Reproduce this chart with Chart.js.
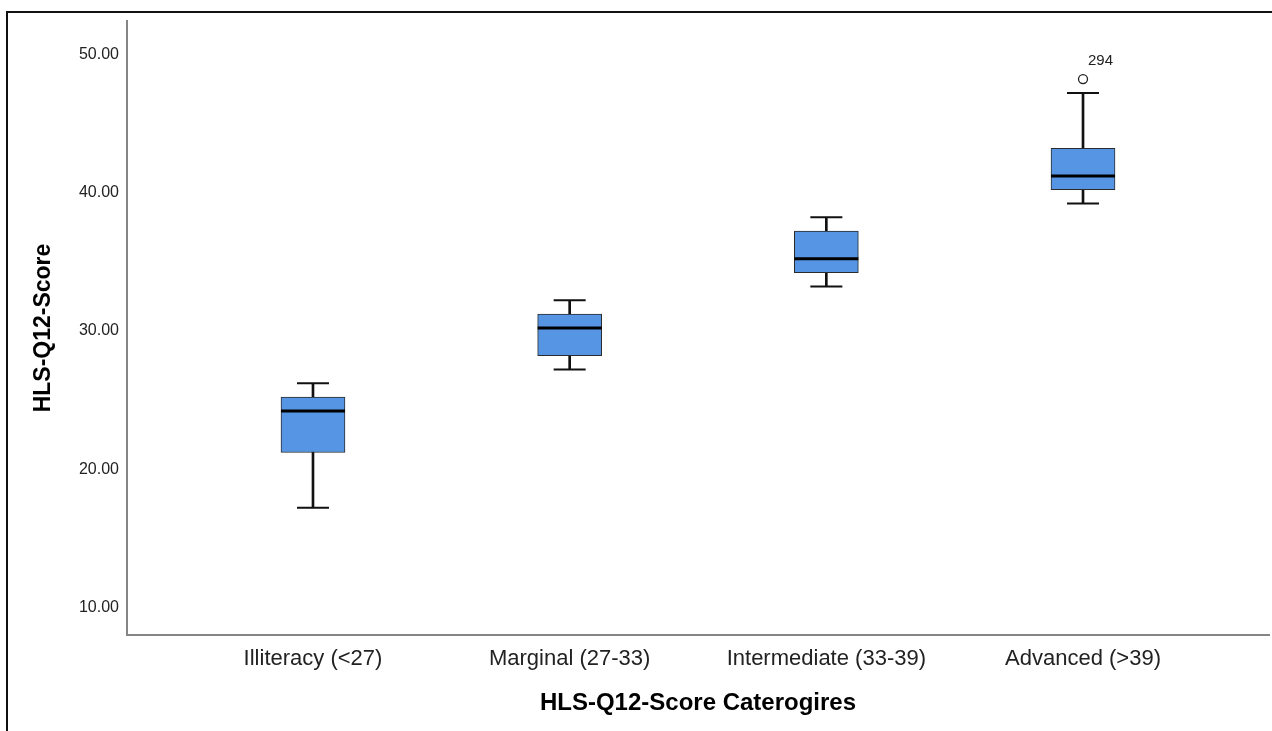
<!DOCTYPE html>
<html>
<head>
<meta charset="utf-8">
<title>HLS-Q12-Score boxplot</title>
<script src="https://cdn.jsdelivr.net/npm/chart.js@4.4.1/dist/chart.umd.min.js"></script>
<style>
  html, body { margin:0; padding:0; background:#fff; overflow:hidden; }
  #wrap  { position:relative; width:1272px; height:731px; }
  #frame { position:absolute; left:6px; top:11px; right:-10px; bottom:-10px;
           border-top:2px solid #111; border-left:2px solid #111; pointer-events:none; }
</style>
</head>
<body>
<div id="wrap">
  <canvas id="box"></canvas>
  <div id="frame"></div>
</div>
<script>
// ── DATA ──
const CATEGORIES = ['Illiteracy (<27)', 'Marginal (27-33)', 'Intermediate (33-39)', 'Advanced (>39)'];
const MIN    = [17, 27, 33, 39];
const Q1     = [21, 28, 34, 40];
const MEDIAN = [24, 30, 35, 41];
const Q3     = [25, 31, 37, 43];
const MAX    = [26, 32, 38, 47];
const OUTLIER_CAT   = [4];
const OUTLIER_VAL   = [48];
const OUTLIER_LABEL = ['294'];
const Y_TICKS = [10, 20, 30, 40, 50];

// ── STYLE ──
const FONT     = "'Liberation Sans', Arial, sans-serif";
const BOX_FILL = '#5595e4';
const INK      = '#111';
const AXIS_CLR = '#858585';

const at = (arr) => arr.map((v, i) => ({ x: i + 1, y: v }));

// label next to the outlier point
const outlierLabels = {
  id: 'outlierLabels',
  afterDatasetsDraw(chart) {
    const meta = chart.getDatasetMeta(chart.data.datasets.findIndex(d => d.id === 'outliers'));
    const ctx = chart.ctx;
    ctx.save();
    ctx.font = '15px ' + FONT;
    ctx.fillStyle = '#222';
    ctx.textAlign = 'left';
    ctx.textBaseline = 'middle';
    meta.data.forEach((pt, i) => ctx.fillText(OUTLIER_LABEL[i], pt.x + 5, pt.y - 18));
    ctx.restore();
  }
};

new Chart(document.getElementById('box'), {
  type: 'bar',
  data: {
    datasets: [
      { // whisker stems, min → max, mostly hidden behind the box
        data: CATEGORIES.map((_, i) => ({ x: i + 1, y: [MIN[i], MAX[i]] })),
        backgroundColor: INK, barThickness: 2, grouped: false, order: 5
      },
      { // boxes q1 → q3
        data: CATEGORIES.map((_, i) => ({ x: i + 1, y: [Q1[i], Q3[i]] })),
        backgroundColor: BOX_FILL, borderColor: '#2b2b2b', borderWidth: 1,
        borderSkipped: false, barThickness: 64, grouped: false, order: 4
      },
      { // whisker caps
        type: 'scatter', data: at(MAX).concat(at(MIN)),
        pointStyle: 'line', pointRadius: 16, borderColor: INK, borderWidth: 2, order: 3
      },
      { // medians
        type: 'scatter', data: at(MEDIAN),
        pointStyle: 'line', pointRadius: 32, borderColor: '#000', borderWidth: 3, order: 2
      },
      {
        id: 'outliers', type: 'scatter',
        data: OUTLIER_CAT.map((c, i) => ({ x: c, y: OUTLIER_VAL[i] })),
        pointStyle: 'circle', pointRadius: 4.5, backgroundColor: '#fff',
        borderColor: '#222', borderWidth: 1.3, order: 1
      }
    ]
  },
  options: {
    responsive: true,
    maintainAspectRatio: false,
    animation: false,
    events: [],
    layout: { autoPadding: false, padding: { left: 0, right: 3, top: 21, bottom: 0 } },
    plugins: { legend: { display: false }, tooltip: { enabled: false } },
    scales: {
      x: {
        type: 'linear', min: 0.2754, max: 4.7246, offset: false,
        grid: { display: false, drawTicks: false, offset: false },
        border: { display: true, color: AXIS_CLR, width: 2 },
        afterBuildTicks: s => { s.ticks = CATEGORIES.map((_, i) => ({ value: i + 1 })); },
        afterFit: s => { s.height = 96; },
        ticks: {
          padding: 11, color: '#222', maxRotation: 0, autoSkip: false,
          font: { family: FONT, size: 22 },
          callback: v => CATEGORIES[v - 1]
        },
        title: {
          display: true, text: 'HLS-Q12-Score Caterogires', color: '#000',
          font: { family: FONT, size: 24, weight: 'bold' },
          padding: { top: 0, bottom: 13 }
        }
      },
      y: {
        type: 'linear', min: 7.8, max: 52.2,
        grid: { display: false, drawTicks: false },
        border: { display: true, color: AXIS_CLR, width: 2 },
        afterBuildTicks: s => { s.ticks = Y_TICKS.map(v => ({ value: v })); },
        afterFit: s => { s.width = 127; },
        ticks: {
          padding: 8, labelOffset: 3, color: '#222',
          font: { family: FONT, size: 16 },
          callback: v => Number(v).toFixed(2)
        },
        title: {
          display: true, text: 'HLS-Q12-Score', color: '#000',
          font: { family: FONT, size: 23, weight: 'bold' },
          padding: { top: 30, bottom: 0 }
        }
      }
    }
  },
  plugins: [outlierLabels]
});
</script>
</body>
</html>
